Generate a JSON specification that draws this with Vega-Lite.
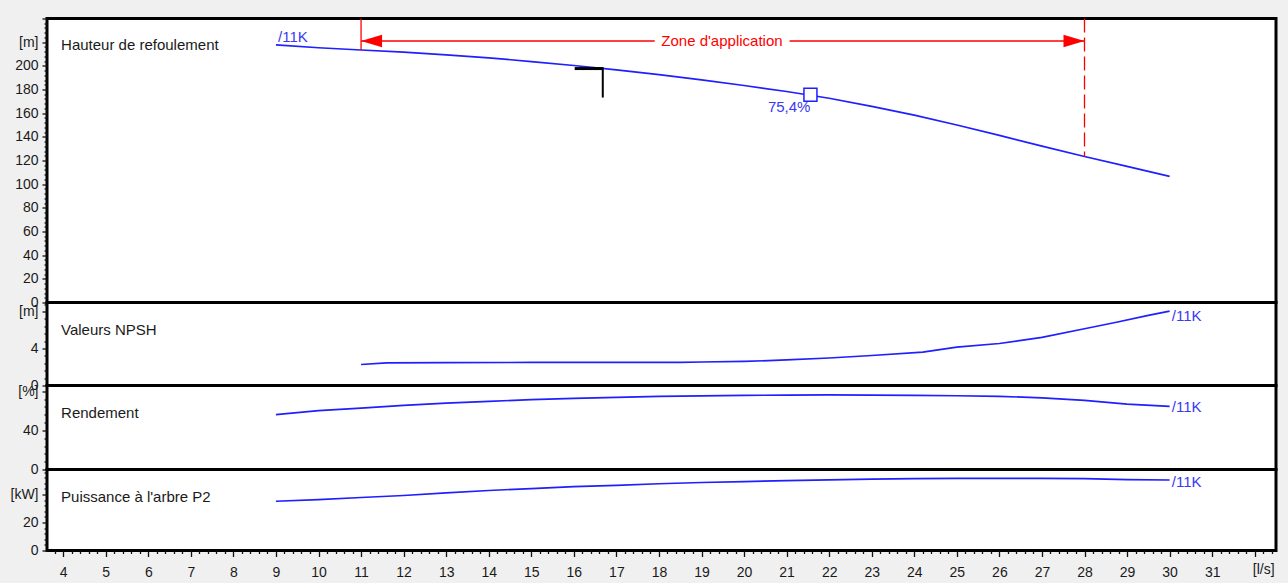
{
  "$schema": "https://vega.github.io/schema/vega-lite/v6.json",
  "background": "#f0f0f0",
  "padding": {"left": 8, "top": 9.5, "right": 10, "bottom": 2},
  "config": {
    "font": "Liberation Sans",
    "view": {"stroke": "black", "strokeWidth": 3, "fill": "white"},
    "axis": {"grid": false, "domain": false, "title": null, "labelFont": "Liberation Sans", "labelFontSize": 14, "labelColor": "#1a1a1a", "tickColor": "#111", "tickWidth": 1.3, "labelOverlap": false, "labelFlush": false, "labelPadding": 4, "labelBound": false}
  },
  "datasets": {
    "head": [
      {"q": 9, "v": 217.7}, {"q": 10, "v": 215.3}, {"q": 11, "v": 213.4}, {"q": 12, "v": 211.6}, {"q": 13, "v": 209.3},
      {"q": 14, "v": 206.8}, {"q": 15, "v": 203.6}, {"q": 16, "v": 200.3}, {"q": 17, "v": 196.6}, {"q": 18, "v": 192.6},
      {"q": 19, "v": 188.2}, {"q": 20, "v": 183.4}, {"q": 21, "v": 178.3}, {"q": 22, "v": 172.6}, {"q": 23, "v": 165.8},
      {"q": 24, "v": 158.3}, {"q": 25, "v": 150.0}, {"q": 26, "v": 141.2}, {"q": 27, "v": 132.2}, {"q": 28, "v": 123.4},
      {"q": 29, "v": 115.0}, {"q": 30, "v": 106.6}
    ],
    "npsh": [
      {"q": 11, "v": 2.27}, {"q": 11.6, "v": 2.45}, {"q": 13, "v": 2.48}, {"q": 15, "v": 2.49}, {"q": 17, "v": 2.49},
      {"q": 18.5, "v": 2.5}, {"q": 19, "v": 2.54}, {"q": 20, "v": 2.6}, {"q": 21, "v": 2.76}, {"q": 22, "v": 2.97},
      {"q": 23, "v": 3.24}, {"q": 24.2, "v": 3.6}, {"q": 25, "v": 4.15}, {"q": 26, "v": 4.54}, {"q": 27, "v": 5.2},
      {"q": 28, "v": 6.13}, {"q": 28.75, "v": 6.84}, {"q": 29.5, "v": 7.57}, {"q": 30, "v": 8.03}
    ],
    "eff": [
      {"q": 9, "v": 56.1}, {"q": 10, "v": 60.3}, {"q": 11, "v": 62.9}, {"q": 12, "v": 65.6}, {"q": 13, "v": 68.0},
      {"q": 14, "v": 69.7}, {"q": 15, "v": 71.6}, {"q": 16, "v": 72.8}, {"q": 17, "v": 73.8}, {"q": 18, "v": 74.8},
      {"q": 19, "v": 75.4}, {"q": 20, "v": 75.9}, {"q": 21, "v": 76.2}, {"q": 22, "v": 76.3}, {"q": 23, "v": 76.2},
      {"q": 24, "v": 75.9}, {"q": 25, "v": 75.5}, {"q": 26, "v": 74.9}, {"q": 27, "v": 73.4}, {"q": 28, "v": 70.8},
      {"q": 29, "v": 67.0}, {"q": 30, "v": 64.6}
    ],
    "power": [
      {"q": 9, "v": 35.2}, {"q": 10, "v": 36.4}, {"q": 11, "v": 37.9}, {"q": 12, "v": 39.3}, {"q": 13, "v": 41.2},
      {"q": 14, "v": 42.9}, {"q": 15, "v": 44.3}, {"q": 16, "v": 45.6}, {"q": 17, "v": 46.6}, {"q": 18, "v": 47.7},
      {"q": 19, "v": 48.6}, {"q": 20, "v": 49.3}, {"q": 21, "v": 50.0}, {"q": 22, "v": 50.5}, {"q": 23, "v": 51.0},
      {"q": 24, "v": 51.4}, {"q": 25, "v": 51.5}, {"q": 26, "v": 51.5}, {"q": 27, "v": 51.5}, {"q": 28, "v": 51.4},
      {"q": 29, "v": 50.7}, {"q": 30, "v": 50.4}
    ]
  },
  "vconcat": [
    {
      "width": 1229,
      "height": 284,
      "encoding": {
        "x": {"field": "q", "type": "quantitative", "scale": {"domain": [3.62, 32.5], "nice": false, "zero": false}, "axis": null},
        "y": {"field": "v", "type": "quantitative", "scale": {"domain": [0, 240], "nice": false, "zero": false},
          "axis": {
            "values": [0,4,8,12,16,20,24,28,32,36,40,44,48,52,56,60,64,68,72,76,80,84,88,92,96,100,104,108,112,116,120,124,128,132,136,140,144,148,152,156,160,164,168,172,176,180,184,188,192,196,200,204,208,212,216,220,224,228,232,236,240],
            "labelExpr": "datum.value === 220 ? '[m]' : ((datum.value % 20 === 0 && datum.value <= 200) ? '' + datum.value : '')",
            "tickSize": {"condition": {"test": "datum.value % 20 === 0", "value": 5}, "value": 3}
          }
        }
      },
      "layer": [
        {
          "data": {"name": "head"},
          "mark": {"type": "line", "color": "#1f1fff", "strokeWidth": 1.7}
        },
        {
          "data": {"values": [{"q": 11, "v": 240, "v2": 213.4}]},
          "mark": {"type": "rule", "color": "#ff0000", "strokeWidth": 1.3},
          "encoding": {"y2": {"field": "v2"}}
        },
        {
          "data": {"values": [{"q": 28, "v": 240, "v2": 123.4}]},
          "mark": {"type": "rule", "color": "#ff0000", "strokeWidth": 1.3, "strokeDash": [14, 5]},
          "encoding": {"y2": {"field": "v2"}}
        },
        {
          "data": {"values": [{"q": 11, "q2": 17.9, "v": 221}, {"q": 21.07, "q2": 28, "v": 221}]},
          "mark": {"type": "rule", "color": "#ff0000", "strokeWidth": 1.3},
          "encoding": {"x2": {"field": "q2"}}
        },
        {
          "data": {"values": [{"q": 11, "v": 221, "dir": "l"}, {"q": 28, "v": 221, "dir": "r"}]},
          "mark": {"type": "point", "filled": true, "color": "#ff0000", "opacity": 1, "size": 441},
          "encoding": {
            "shape": {"field": "dir", "type": "nominal", "scale": {"domain": ["l", "r"], "range": ["M 0 0 L 2 -0.6 L 2 0.6 Z", "M 0 0 L -2 -0.6 L -2 0.6 Z"]}, "legend": null}
          }
        },
        {
          "data": {"values": [{"q": 19.48, "v": 221, "t": "Zone d'application"}]},
          "mark": {"type": "text", "color": "#ff0000", "fontSize": 15, "align": "center", "baseline": "middle"},
          "encoding": {"text": {"field": "t"}}
        },
        {
          "data": {"values": [{"q": 9.05, "v": 224.5, "t": "/11K"}]},
          "mark": {"type": "text", "color": "#3a3af0", "fontSize": 15, "align": "left", "baseline": "middle"},
          "encoding": {"text": {"field": "t"}}
        },
        {
          "data": {"values": [{"q": 3.95, "v": 217.7, "t": "Hauteur de refoulement"}]},
          "mark": {"type": "text", "color": "#1a1a1a", "fontSize": 15, "align": "left", "baseline": "middle"},
          "encoding": {"text": {"field": "t"}}
        },
        {
          "data": {"values": [{"q": 16.02, "q2": 16.68, "v": 197.7}]},
          "mark": {"type": "rule", "color": "#000000", "strokeWidth": 3},
          "encoding": {"x2": {"field": "q2"}}
        },
        {
          "data": {"values": [{"q": 16.68, "v": 198.8, "v2": 173.2}]},
          "mark": {"type": "rule", "color": "#000000", "strokeWidth": 2},
          "encoding": {"y2": {"field": "v2"}}
        },
        {
          "data": {"values": [{"q": 21.56, "v": 175.5}]},
          "mark": {"type": "square", "size": 169, "fill": "white", "stroke": "#1f1fff", "strokeWidth": 1.5, "opacity": 1}
        },
        {
          "data": {"values": [{"q": 21.56, "v": 165.4, "t": "75,4%"}]},
          "mark": {"type": "text", "color": "#3a3af0", "fontSize": 15, "align": "right", "baseline": "middle"},
          "encoding": {"text": {"field": "t"}}
        }
      ]
    },
    {
      "width": 1229,
      "height": 83,
      "encoding": {
        "x": {"field": "q", "type": "quantitative", "scale": {"domain": [3.62, 32.5], "nice": false, "zero": false}, "axis": null},
        "y": {"field": "v", "type": "quantitative", "scale": {"domain": [0, 8.97], "nice": false, "zero": false},
          "axis": {
            "values": [0, 0.8, 1.6, 2.4, 3.2, 4, 4.8, 5.6, 6.4, 7.2, 8, 8.8],
            "labelExpr": "datum.value === 8 ? '[m]' : ((datum.value === 0 || datum.value === 4) ? '' + datum.value : '')",
            "tickSize": {"condition": {"test": "datum.value === 0 || datum.value === 4 || datum.value === 8", "value": 5}, "value": 3}
          }
        }
      },
      "layer": [
        {
          "data": {"name": "npsh"},
          "mark": {"type": "line", "color": "#1f1fff", "strokeWidth": 1.7}
        },
        {
          "data": {"values": [{"q": 3.95, "v": 6.02, "t": "Valeurs NPSH"}]},
          "mark": {"type": "text", "color": "#1a1a1a", "fontSize": 15, "align": "left", "baseline": "middle"},
          "encoding": {"text": {"field": "t"}}
        },
        {
          "data": {"values": [{"q": 30.05, "v": 7.5, "t": "/11K"}]},
          "mark": {"type": "text", "color": "#3a3af0", "fontSize": 15, "align": "left", "baseline": "middle"},
          "encoding": {"text": {"field": "t"}}
        }
      ]
    },
    {
      "width": 1229,
      "height": 84,
      "encoding": {
        "x": {"field": "q", "type": "quantitative", "scale": {"domain": [3.62, 32.5], "nice": false, "zero": false}, "axis": null},
        "y": {"field": "v", "type": "quantitative", "scale": {"domain": [0, 86], "nice": false, "zero": false},
          "axis": {
            "values": [0, 8, 16, 24, 32, 40, 48, 56, 64, 72, 80],
            "labelExpr": "datum.value === 80 ? '[%]' : ((datum.value === 0 || datum.value === 40) ? '' + datum.value : '')",
            "tickSize": {"condition": {"test": "datum.value % 40 === 0", "value": 5}, "value": 3}
          }
        }
      },
      "layer": [
        {
          "data": {"name": "eff"},
          "mark": {"type": "line", "color": "#1f1fff", "strokeWidth": 1.7}
        },
        {
          "data": {"values": [{"q": 3.95, "v": 57.7, "t": "Rendement"}]},
          "mark": {"type": "text", "color": "#1a1a1a", "fontSize": 15, "align": "left", "baseline": "middle"},
          "encoding": {"text": {"field": "t"}}
        },
        {
          "data": {"values": [{"q": 30.05, "v": 63.9, "t": "/11K"}]},
          "mark": {"type": "text", "color": "#3a3af0", "fontSize": 15, "align": "left", "baseline": "middle"},
          "encoding": {"text": {"field": "t"}}
        }
      ]
    },
    {
      "width": 1229,
      "height": 81,
      "encoding": {
        "x": {"field": "q", "type": "quantitative", "scale": {"domain": [3.62, 32.5], "nice": false, "zero": false},
          "axis": {
            "values": [3.8,4,4.2,4.4,4.6,4.8,5,5.2,5.4,5.6,5.8,6,6.2,6.4,6.6,6.8,7,7.2,7.4,7.6,7.8,8,8.2,8.4,8.6,8.8,9,9.2,9.4,9.6,9.8,10,10.2,10.4,10.6,10.8,11,11.2,11.4,11.6,11.8,12,12.2,12.4,12.6,12.8,13,13.2,13.4,13.6,13.8,14,14.2,14.4,14.6,14.8,15,15.2,15.4,15.6,15.8,16,16.2,16.4,16.6,16.8,17,17.2,17.4,17.6,17.8,18,18.2,18.4,18.6,18.8,19,19.2,19.4,19.6,19.8,20,20.2,20.4,20.6,20.8,21,21.2,21.4,21.6,21.8,22,22.2,22.4,22.6,22.8,23,23.2,23.4,23.6,23.8,24,24.2,24.4,24.6,24.8,25,25.2,25.4,25.6,25.8,26,26.2,26.4,26.6,26.8,27,27.2,27.4,27.6,27.8,28,28.2,28.4,28.6,28.8,29,29.2,29.4,29.6,29.8,30,30.2,30.4,30.6,30.8,31,31.2,31.4,31.6,31.8,32,32.2,32.4],
            "labelExpr": "datum.value === 32.2 ? '[l/s]' : (datum.value === round(datum.value) && datum.value < 32 ? '' + datum.value : '')",
            "tickSize": {"condition": {"test": "datum.value === round(datum.value)", "value": 6}, "value": 3},
            "labelPadding": 9
          }
        },
        "y": {"field": "v", "type": "quantitative", "scale": {"domain": [0, 57.9], "nice": false, "zero": false},
          "axis": {
            "values": [0, 4, 8, 12, 16, 20, 24, 28, 32, 36, 40, 44, 48, 52, 56],
            "labelExpr": "datum.value === 40 ? '[kW]' : ((datum.value === 0 || datum.value === 20) ? '' + datum.value : '')",
            "tickSize": {"condition": {"test": "datum.value % 20 === 0", "value": 5}, "value": 3}
          }
        }
      },
      "layer": [
        {
          "data": {"name": "power"},
          "mark": {"type": "line", "color": "#1f1fff", "strokeWidth": 1.7}
        },
        {
          "data": {"values": [{"q": 3.95, "v": 38, "t": "Puissance à l'arbre P2"}]},
          "mark": {"type": "text", "color": "#1a1a1a", "fontSize": 15, "align": "left", "baseline": "middle"},
          "encoding": {"text": {"field": "t"}}
        },
        {
          "data": {"values": [{"q": 30.05, "v": 48.8, "t": "/11K"}]},
          "mark": {"type": "text", "color": "#3a3af0", "fontSize": 15, "align": "left", "baseline": "middle"},
          "encoding": {"text": {"field": "t"}}
        }
      ]
    }
  ],
  "spacing": 0,
  "bounds": "flush"
}
